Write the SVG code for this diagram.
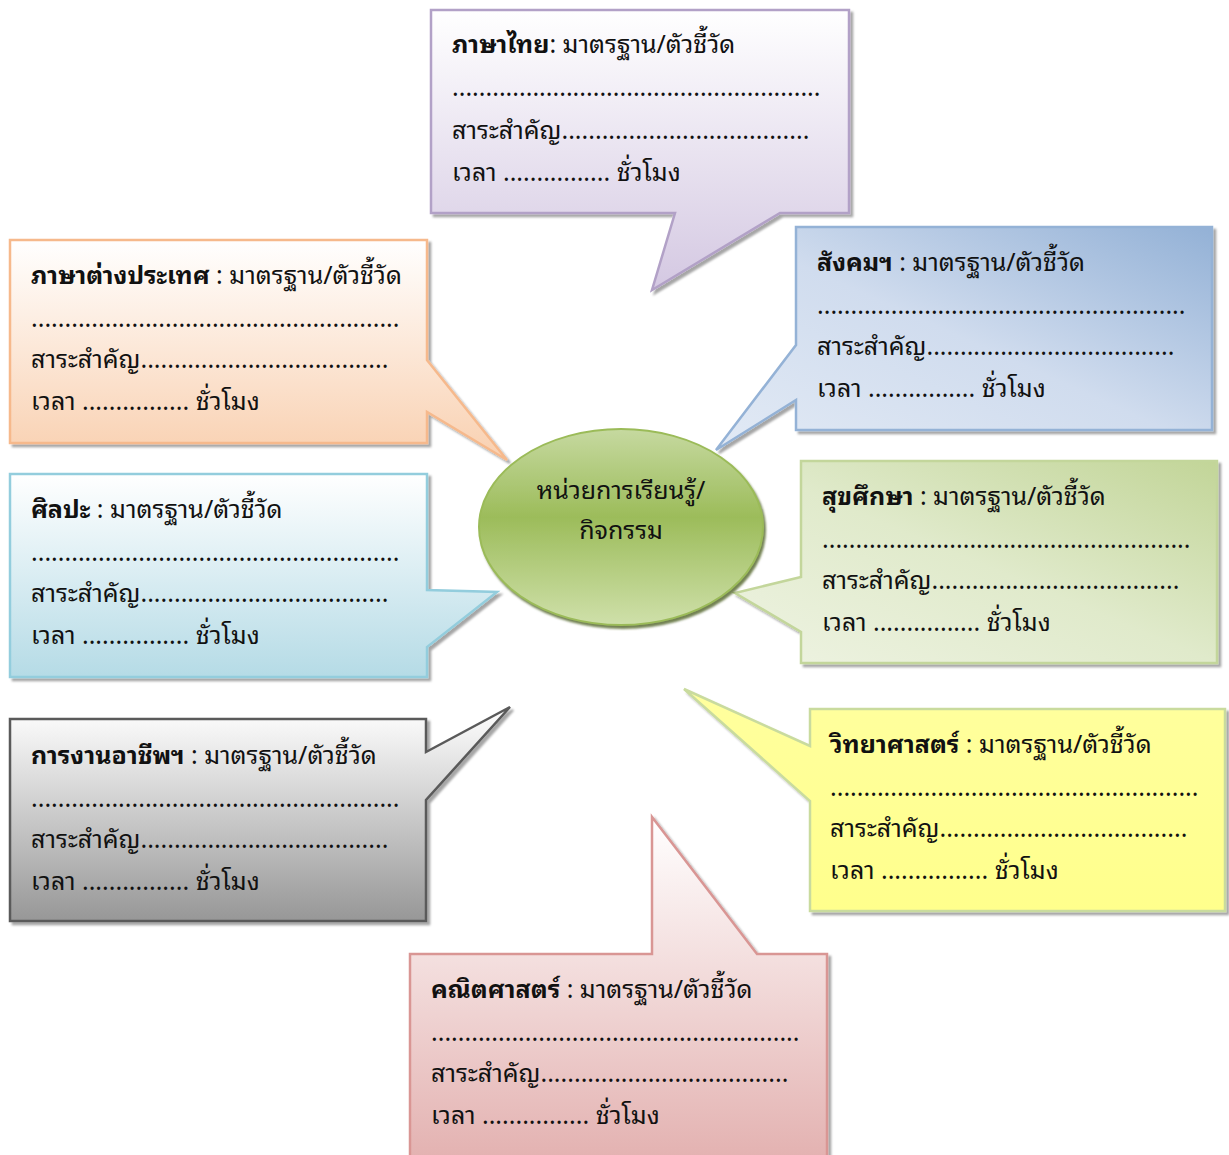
<svg xmlns="http://www.w3.org/2000/svg" width="1229" height="1155" viewBox="0 0 1229 1155">
  <defs>
    <filter id="shadow" x="-10%" y="-10%" width="120%" height="120%">
      <feDropShadow dx="3" dy="3" stdDeviation="1" flood-color="#000" flood-opacity="0.35"/>
    </filter>
    <filter id="hubShadow" x="-10%" y="-10%" width="120%" height="120%">
      <feDropShadow dx="2" dy="3" stdDeviation="1" flood-color="#4f6228" flood-opacity="0.8"/>
    </filter>
    <linearGradient id="gPurple" x1="0" y1="0" x2="0" y2="1">
      <stop offset="0" stop-color="#ffffff"/>
      <stop offset="1" stop-color="#d4c8e2"/>
    </linearGradient>
    <linearGradient id="gOrange" x1="0" y1="0" x2="0" y2="1">
      <stop offset="0" stop-color="#ffffff"/>
      <stop offset="1" stop-color="#f9d0b0"/>
    </linearGradient>
    <linearGradient id="gBlue" x1="0" y1="1" x2="1" y2="0">
      <stop offset="0" stop-color="#e2eaf5"/>
      <stop offset="0.5" stop-color="#d0dcee"/>
      <stop offset="1" stop-color="#93b1d6"/>
    </linearGradient>
    <linearGradient id="gCyan" x1="0" y1="0" x2="0" y2="1">
      <stop offset="0" stop-color="#ffffff"/>
      <stop offset="1" stop-color="#b5dbe6"/>
    </linearGradient>
    <linearGradient id="gGreen" x1="0" y1="1" x2="1" y2="0">
      <stop offset="0" stop-color="#eef3e2"/>
      <stop offset="0.5" stop-color="#e0eacb"/>
      <stop offset="1" stop-color="#c2d598"/>
    </linearGradient>
    <linearGradient id="gGray" x1="0" y1="0" x2="0" y2="1">
      <stop offset="0" stop-color="#ffffff"/>
      <stop offset="1" stop-color="#979797"/>
    </linearGradient>
    <linearGradient id="gYellow" x1="0" y1="0" x2="0" y2="1">
      <stop offset="0" stop-color="#ffff9e"/>
      <stop offset="1" stop-color="#ffff8c"/>
    </linearGradient>
    <linearGradient id="gPink" x1="0" y1="0" x2="0" y2="1">
      <stop offset="0" stop-color="#ffffff"/>
      <stop offset="1" stop-color="#e3b1b0"/>
    </linearGradient>
    <linearGradient id="gHub" x1="0" y1="0" x2="0" y2="1">
      <stop offset="0" stop-color="#c6d9a0"/>
      <stop offset="0.45" stop-color="#9cbc5a"/>
      <stop offset="1" stop-color="#cfe0aa"/>
    </linearGradient>
  </defs>
  <style>
    .callout { stroke-width: 2.5; stroke-linejoin: miter; filter: url(#shadow); }
    text { font-family: "Noto Sans Thai Looped", "Noto Sans Thai", "Noto Sans", "DejaVu Sans", sans-serif; fill: #111; }
    .body { font-size: 25px; }
    .title { font-weight: bold; }
    .hubText { font-size: 25px; text-anchor: middle; }
  </style>

  <!-- ภาษาไทย (top) -->
  <g id="node-thai">
    <path class="callout" fill="url(#gPurple)" stroke="#b2a1c7" d="M431,10 H849 V213 H780 L652,290 L675,213 H431 Z"/>
    <text class="body" x="452" y="53"><tspan class="title">ภาษาไทย</tspan>: มาตรฐาน/ตัวชี้วัด</text>
    <text class="body" x="452" y="96">.......................................................</text>
    <text class="body" x="452" y="139">สาระสำคัญ.....................................</text>
    <text class="body" x="452" y="181">เวลา ................ ชั่วโมง</text>
  </g>

  <!-- ภาษาต่างประเทศ -->
  <g id="node-foreign">
    <path class="callout" fill="url(#gOrange)" stroke="#f6b98c" d="M10,240 H427 V360 L507,460 L427,412 V443 H10 Z"/>
    <text class="body" x="31" y="284"><tspan class="title">ภาษาต่างประเทศ</tspan> : มาตรฐาน/ตัวชี้วัด</text>
    <text class="body" x="31" y="327">.......................................................</text>
    <text class="body" x="31" y="368">สาระสำคัญ.....................................</text>
    <text class="body" x="31" y="410">เวลา ................ ชั่วโมง</text>
  </g>

  <!-- สังคมฯ -->
  <g id="node-social">
    <path class="callout" fill="url(#gBlue)" stroke="#94b2d6" d="M796,227 H1212 V430 H796 V400 L716,450 L796,345 Z"/>
    <text class="body" x="817" y="271"><tspan class="title">สังคมฯ</tspan> : มาตรฐาน/ตัวชี้วัด</text>
    <text class="body" x="817" y="314">.......................................................</text>
    <text class="body" x="817" y="355">สาระสำคัญ.....................................</text>
    <text class="body" x="817" y="397">เวลา ................ ชั่วโมง</text>
  </g>

  <!-- ศิลปะ -->
  <g id="node-arts">
    <path class="callout" fill="url(#gCyan)" stroke="#93cddd" d="M10,474 H427 V590 L497,592 L427,647 V677 H10 Z"/>
    <text class="body" x="31" y="518"><tspan class="title">ศิลปะ</tspan> : มาตรฐาน/ตัวชี้วัด</text>
    <text class="body" x="31" y="561">.......................................................</text>
    <text class="body" x="31" y="602">สาระสำคัญ.....................................</text>
    <text class="body" x="31" y="644">เวลา ................ ชั่วโมง</text>
  </g>

  <!-- สุขศึกษา -->
  <g id="node-health">
    <path class="callout" fill="url(#gGreen)" stroke="#c3d69b" d="M801,461 H1217 V663 H801 V632 L735,593 L801,577 Z"/>
    <text class="body" x="822" y="505"><tspan class="title">สุขศึกษา</tspan> : มาตรฐาน/ตัวชี้วัด</text>
    <text class="body" x="822" y="548">.......................................................</text>
    <text class="body" x="822" y="589">สาระสำคัญ.....................................</text>
    <text class="body" x="822" y="631">เวลา ................ ชั่วโมง</text>
  </g>

  <!-- การงานอาชีพฯ -->
  <g id="node-career">
    <path class="callout" fill="url(#gGray)" stroke="#5a5a5a" d="M10,719 H426 V752 L510,707 L426,800 V921 H10 Z"/>
    <text class="body" x="31" y="764"><tspan class="title">การงานอาชีพฯ</tspan> : มาตรฐาน/ตัวชี้วัด</text>
    <text class="body" x="31" y="807">.......................................................</text>
    <text class="body" x="31" y="848">สาระสำคัญ.....................................</text>
    <text class="body" x="31" y="890">เวลา ................ ชั่วโมง</text>
  </g>

  <!-- วิทยาศาสตร์ -->
  <g id="node-science">
    <path class="callout" fill="url(#gYellow)" stroke="#c9db9e" d="M810,709 H1225 V911 H810 V801 L684,689 L810,746 Z"/>
    <text class="body" x="830" y="753"><tspan class="title">วิทยาศาสตร์</tspan> : มาตรฐาน/ตัวชี้วัด</text>
    <text class="body" x="830" y="796">.......................................................</text>
    <text class="body" x="830" y="837">สาระสำคัญ.....................................</text>
    <text class="body" x="830" y="879">เวลา ................ ชั่วโมง</text>
  </g>

  <!-- คณิตศาสตร์ (bottom) -->
  <g id="node-math">
    <path class="callout" fill="url(#gPink)" stroke="#d99694" d="M410,954 H652 V817 L757,954 H827 V1162 H410 Z"/>
    <text class="body" x="431" y="998"><tspan class="title">คณิตศาสตร์</tspan> : มาตรฐาน/ตัวชี้วัด</text>
    <text class="body" x="431" y="1041">.......................................................</text>
    <text class="body" x="431" y="1082">สาระสำคัญ.....................................</text>
    <text class="body" x="431" y="1124">เวลา ................ ชั่วโมง</text>
  </g>

  <!-- central hub -->
  <g id="node-hub">
    <ellipse cx="621" cy="527" rx="142" ry="98" fill="url(#gHub)" stroke="#9bbb59" stroke-width="2" filter="url(#hubShadow)"/>
    <text class="hubText" x="621" y="499">หน่วยการเรียนรู้/</text>
    <text class="hubText" x="621" y="539">กิจกรรม</text>
  </g>
</svg>
